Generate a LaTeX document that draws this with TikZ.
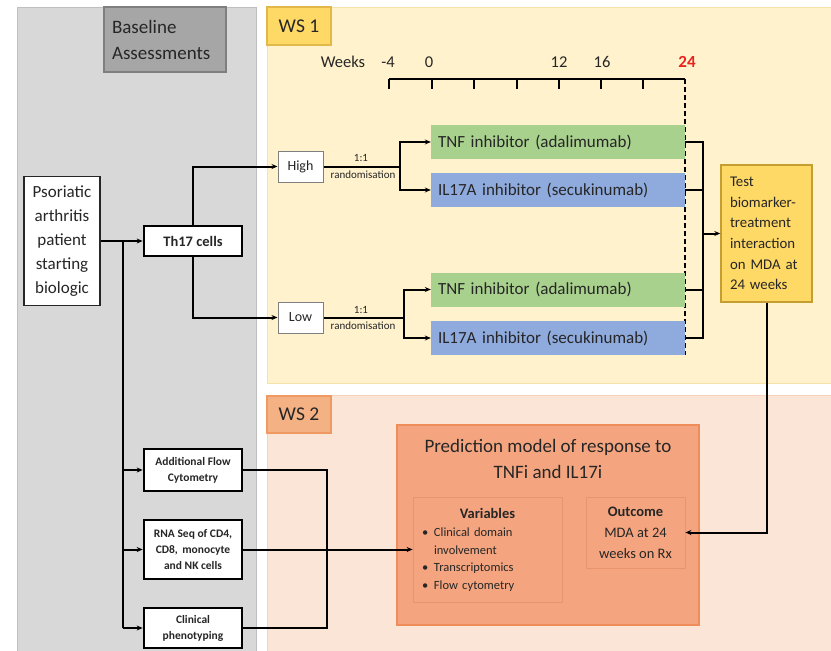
\documentclass[tikz,border=0pt]{standalone}
\usepackage{fontspec}
\setmainfont{Carlito}
\usetikzlibrary{arrows.meta}
\definecolor{txt}{HTML}{262626}
\definecolor{grayp}{HTML}{D8D8D8}
\definecolor{grayb}{HTML}{BFBFBF}
\definecolor{basef}{HTML}{A6A6A6}
\definecolor{baseb}{HTML}{7F7F7F}
\definecolor{ws1f}{HTML}{FFF2CC}
\definecolor{ws1b}{HTML}{F6E3A8}
\definecolor{ws1l}{HTML}{FFD966}
\definecolor{ws1lb}{HTML}{E2B84A}
\definecolor{testb}{HTML}{C49E30}
\definecolor{ws2f}{HTML}{FBE5D6}
\definecolor{ws2b}{HTML}{F6D3BC}
\definecolor{ws2l}{HTML}{F4B183}
\definecolor{ws2lb}{HTML}{EE9A62}
\definecolor{predf}{HTML}{F4A57F}
\definecolor{predb}{HTML}{EE8C5A}
\definecolor{subb}{HTML}{E8946C}
\definecolor{grn}{HTML}{A9D18E}
\definecolor{blu}{HTML}{8FAADC}
\definecolor{axred}{HTML}{E8231E}
\begin{document}
\begin{tikzpicture}[x=1pt,y=-1pt,
  every node/.style={text=txt, inner sep=0pt, rectangle},
  conn/.style={line width=2pt, draw=black},
  arr/.style={-{Stealth[length=6pt,width=5pt]}},
  thickbox/.style={draw=black, line width=2.7pt, fill=white, align=center,
     font=\fontsize{11.5}{16}\selectfont\bfseries},
  bar/.style={minimum width=254, minimum height=34, text width=240, inner xsep=7,
     align=left, font=\fontsize{17}{20}\selectfont},
  hl/.style={draw=baseb, line width=1pt, fill=white, minimum width=45, minimum height=31,
     font=\fontsize{14}{17}\selectfont},
  small/.style={font=\fontsize{11}{13}\selectfont},
  ticklab/.style={font=\fontsize{16.5}{20}\selectfont},
  subbox/.style={draw=subb, line width=0.8pt, fill=predf}
]
\useasboundingbox (0,0) rectangle (831,651);
\fill[white] (0,0) rectangle (831,651);

% panels
\node[fill=grayp, draw=grayb, line width=0.8pt, minimum width=239, minimum height=644] (grayp) at (136.5,329) {};
\node[fill=basef, draw=baseb, line width=1.2pt, minimum width=122, minimum height=65,
      text width=106, inner xsep=8, align=left, font=\fontsize{19}{26}\selectfont] (baseline) at (165,39.5) {Baseline\\Assessments};
\node[fill=ws1f, draw=ws1b, line width=0.8pt, minimum width=564, minimum height=376] (ws1) at (549,195) {};
\node[fill=ws1l, draw=ws1lb, line width=1.2pt, minimum width=64, minimum height=38,
      font=\fontsize{19.5}{24}\selectfont] (ws1lab) at (299,26) {WS 1};
\node[fill=ws2f, draw=ws2b, line width=0.8pt, minimum width=564, minimum height=256] (ws2) at (549,523) {};
\node[fill=ws2l, draw=ws2lb, line width=1.2pt, minimum width=64, minimum height=37,
      font=\fontsize{19.5}{24}\selectfont] (ws2lab) at (299,414.5) {WS 2};

% timeline
\coordinate (am4) at (389,79);
\coordinate (a0) at (432,79);
\coordinate (a4) at (474,79);
\coordinate (a8) at (517,79);
\coordinate (a12) at (559,79);
\coordinate (a16) at (601,79);
\coordinate (a20) at (643,79);
\coordinate (a24) at (685,79);
\coordinate (aend) at (685,355);
\draw[line width=1.5pt] (am4) -- (a24);
\foreach \t in {am4,a0,a4,a8,a12,a16,a20}{\draw[line width=1.5pt] (\t) -- ++(0,10);}
\draw[line width=1.3pt, dash pattern=on 5pt off 3pt] (a24) -- (aend);
\node[ticklab] (lweeks) at (343,62) {Weeks};
\node[ticklab] (lm4) at (388,62) {-4};
\node[ticklab] (l0) at (429,62) {0};
\node[ticklab] (l12) at (559,62) {12};
\node[ticklab] (l16) at (602,62) {16};
\node[ticklab, text=axred, font=\fontsize{17}{20}\selectfont\bfseries] (l24) at (687,62) {24};

% treatment bars
\node[bar, fill=grn] (tnf1) at (558,142) {TNF inhibitor (adalimumab)};
\node[bar, fill=blu] (il1) at (558,190) {IL17A inhibitor (secukinumab)};
\node[bar, fill=grn] (tnf2) at (558,289.5) {TNF inhibitor (adalimumab)};
\node[bar, fill=blu] (il2) at (558,338) {IL17A inhibitor (secukinumab)};

% test box
\node[fill=ws1l, draw=testb, line width=1.4pt, minimum width=91, minimum height=137,
      text width=73, inner xsep=9, align=left, font=\fontsize{14.8}{20.7}\selectfont] (test) at (766.5,233.5)
      {Test\\biomarker-\\treatment\\interaction\\on MDA at\\24 weeks};

% left column
\node[draw=txt, line width=1.4pt, fill=white, minimum width=76, minimum height=129, align=center,
      font=\fontsize{17}{24}\selectfont] (psa) at (62,241) {Psoriatic\\arthritis\\patient\\starting\\biologic};
\node[thickbox, minimum width=98, minimum height=30, font=\fontsize{14.5}{17}\selectfont\bfseries] (th17) at (193,241) {Th17 cells};
\node[hl] (high) at (300.5,166.5) {High};
\node[hl] (low) at (300.5,317.5) {Low};
\node[thickbox, minimum width=98, minimum height=42] (addf) at (193,470) {Additional Flow\\Cytometry};
\node[thickbox, minimum width=98, minimum height=59] (rna) at (193,549.5) {RNA Seq of CD4,\\CD8,\, monocyte\\and NK cells};
\node[thickbox, minimum width=98, minimum height=40] (clin) at (193,628) {Clinical\\phenotyping};

% prediction model
\node[fill=predf, draw=predb, line width=1.2pt, minimum width=302, minimum height=200] (pred) at (548,525) {};
\node[align=center, font=\fontsize{19}{26}\selectfont] (ptitle) at (548,459) {Prediction model of response to\\TNFi and IL17i};
\node[subbox, minimum width=149, minimum height=105, text width=131, inner xsep=9, align=left,
      font=\fontsize{12.5}{17.5}\selectfont] (vars) at (487.5,549.5)
      {{\centering\fontsize{14.5}{19}\selectfont\bfseries Variables\par}\vspace{1pt}
       \makebox[12pt][l]{\textbullet}Clinical domain\\
       \hspace*{12pt}involvement\\
       \makebox[12pt][l]{\textbullet}Transcriptomics\\
       \makebox[12pt][l]{\textbullet}Flow cytometry};
\node[subbox, minimum width=99, minimum height=71, align=center,
      font=\fontsize{14.5}{21}\selectfont] (outc) at (635.5,532.5)
      {\textbf{Outcome}\\MDA at 24\\weeks on Rx};

% connectors: baseline
\coordinate (j1) at (123,241);
\draw[conn, arr] (psa.east) -- (th17.west);
\draw[conn] (j1) -- (j1 |- clin.west);
\draw[conn, arr] (j1 |- addf.west) -- (addf.west);
\draw[conn, arr] (j1 |- rna.west) -- (rna.west);
\draw[conn, arr] (j1 |- clin.west) -- (clin.west);
\draw[conn, arr] (th17.north) |- (high.west);
\draw[conn, arr] (th17.south) |- (low.west);

% randomisation
\coordinate (sh) at (400,166.5);
\coordinate (sl) at (404,317.5);
\draw[conn] (high.east) -- (sh);
\draw[conn, arr] (sh) |- (tnf1.west);
\draw[conn, arr] (sh) |- (il1.west);
\draw[conn] (low.east) -- (sl);
\draw[conn, arr] (sl) |- (tnf2.west);
\draw[conn, arr] (sl) |- (il2.west);
\node[small] (r1a) at (361,158) {1:1};
\node[small] (r1b) at (363,175) {randomisation};
\node[small] (r2a) at (361,309.5) {1:1};
\node[small] (r2b) at (363,326) {randomisation};

% to test box
\coordinate (bus) at (703,233.5);
\draw[conn] (tnf1.east) -| (bus);
\draw[conn] (il1.east) -| (bus);
\draw[conn] (tnf2.east) -| (bus);
\draw[conn] (il2.east) -| (bus);
\draw[conn, arr] (bus) -- (test.west);
\draw[conn, arr] (test.south) |- (outc.east);

% ws2 inputs
\coordinate (mx) at (327,549.5);
\draw[conn] (addf.east) -| (mx) |- (clin.east);
\draw[conn, arr] (rna.east) -- (vars.west);
\end{tikzpicture}
\end{document}
